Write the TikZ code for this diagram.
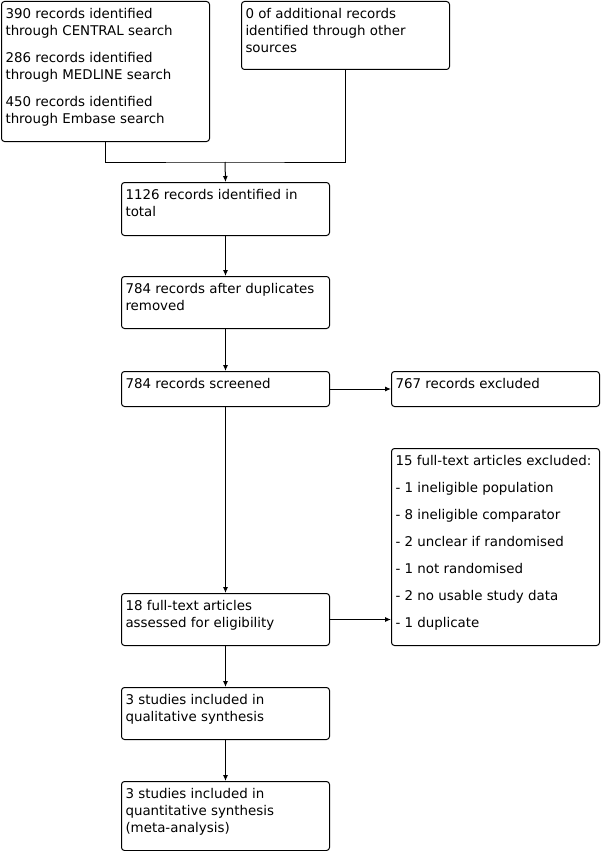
\documentclass[tikz,border=0pt]{standalone}
\usepackage{fontspec}
\setmainfont{DejaVu Sans}
\usetikzlibrary{arrows.meta}
\tikzset{stage/.style={draw=black,line width=1pt,rounded corners=3pt,anchor=north west,inner xsep=4pt,inner ysep=5pt,font=\fontsize{13.4}{17}\selectfont},
 arrow/.style={-{Latex[length=6pt,width=5pt]},line width=1pt}}
\newcommand{\stagetext}[2]{% inner height, text
 \parbox[t][#1pt][t]{200pt}{\raggedright\setlength{\parskip}{10pt}\strut#2}}

\begin{document}
\begin{tikzpicture}[x=1pt,y=-1pt]
 \useasboundingbox (0,0) rectangle (602,851);
 \node[stage] (search) at (1,1) {\stagetext{130}{390 records identified\\through CENTRAL search\par 286 records identified\\through MEDLINE search\par 450 records identified\\through Embase search}};
 \node[stage] (other) at (241,1) {\stagetext{58}{0 of additional records\\identified through other\\sources}};
 \node[stage] (total) at (121,182) {\stagetext{43}{1126 records identified in\\total}};
 \node[stage] (dedup) at (121,276) {\stagetext{42}{784 records after duplicates\\removed}};
 \node[stage] (screened) at (121,371) {\stagetext{25}{784 records screened}};
 \node[stage] (excluded) at (391,371) {\stagetext{25}{767 records excluded}};
 \node[stage] (reasons) at (391,448) {\stagetext{187}{15 full-text articles excluded:\par - 1 ineligible population\par - 8 ineligible comparator\par - 2 unclear if randomised\par - 1 not randomised\par - 2 no usable study data\par - 1 duplicate}};
 \node[stage] (fulltext) at (121,593) {\stagetext{42}{18 full-text articles\\assessed for eligibility}};
 \node[stage] (quali) at (121,687) {\stagetext{42}{3 studies included in\\qualitative synthesis}};
 \node[stage] (quanti) at (121,781) {\stagetext{59}{3 studies included in\\quantitative synthesis\\(meta-analysis)}};
 \coordinate (join) at (225,162);
 \draw[line width=1pt] (search.south) |- (join) -| (other.south);
 \draw[arrow] (join) -- (total.north);
 \draw[arrow] (total) -- (dedup);
 \draw[arrow] (dedup) -- (screened);
 \draw[arrow] (screened) -- (excluded);
 \draw[arrow] (screened) -- (fulltext);
 \draw[arrow] (fulltext.east) -- (fulltext.east -| reasons.west);
 \draw[arrow] (fulltext) -- (quali);
 \draw[arrow] (quali) -- (quanti);
\end{tikzpicture}
\end{document}
